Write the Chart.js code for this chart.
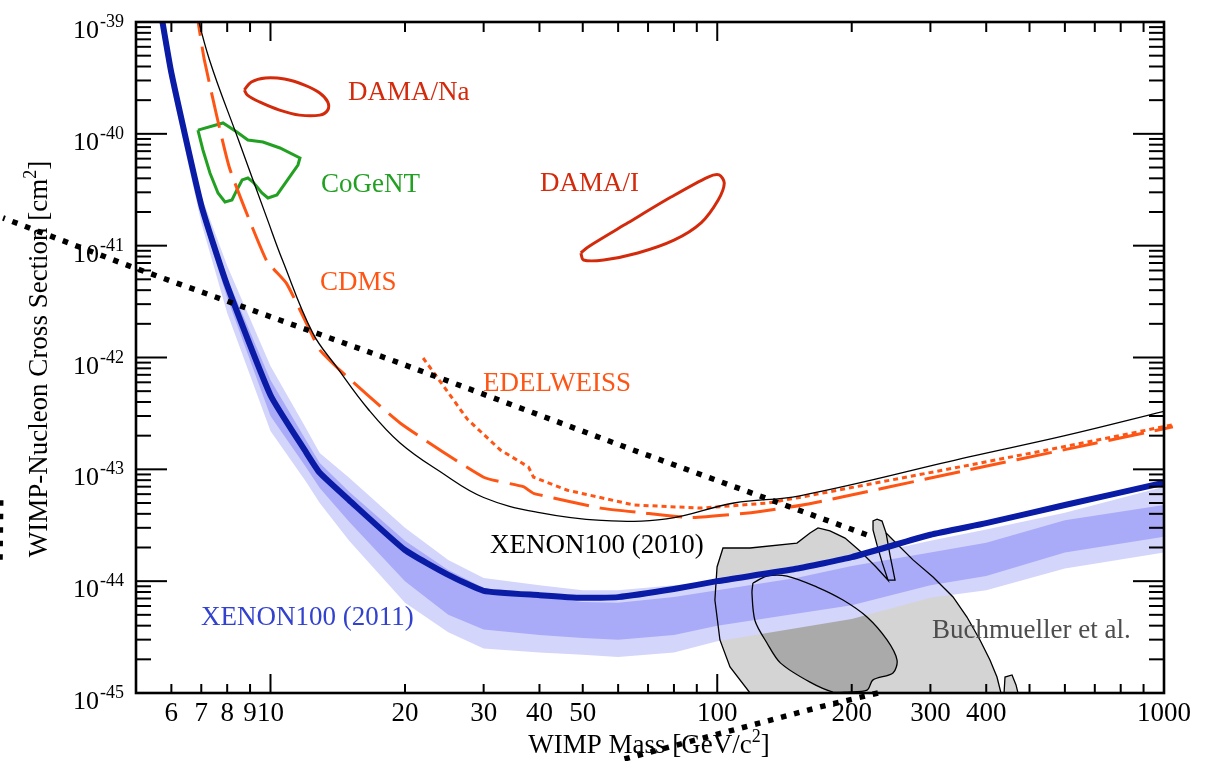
<!DOCTYPE html>
<html>
<head>
<meta charset="utf-8">
<title>XENON100 2011</title>
<script src="https://cdn.jsdelivr.net/npm/chart.js@4/dist/chart.umd.min.js"></script>
<style>
  html, body { margin: 0; padding: 0; background: #fff; }
  canvas { display: block; }
</style>
</head>
<body>
<canvas id="chart" width="1218" height="761"></canvas>
<script>
// WIMP mass grid [GeV/c^2] for the XENON100 (2011) limit and its bands
const massGrid = [5.68, 6, 7, 8, 10, 12, 12.89, 15, 20, 25, 30, 40, 50, 60, 80, 100, 150, 200, 300, 400, 600, 1000];
const xenon2011 = [1.23e-39, 3.5e-40, 2.3e-41, 4.4e-42, 4.6e-43, 1.43e-43, 9.3e-44, 5.3e-44, 1.9e-44, 1.14e-44, 8.2e-45, 7.5e-45, 7.1e-45, 7.2e-45, 8.5e-45, 1.0e-44, 1.29e-44, 1.64e-44, 2.6e-44, 3.3e-44, 4.8e-44, 7.6e-44];
const band2Up = [1.45e-39, 4.1e-40, 2.8e-41, 6.6e-42, 8.4e-43, 2.34e-43, 1.4e-43, 8.4e-44, 3.0e-44, 1.55e-44, 1.07e-44, 9.2e-45, 8.3e-45, 8.3e-45, 9.2e-45, 9.8e-45, 1.26e-44, 1.61e-44, 2.3e-44, 2.9e-44, 4.1e-44, 7.0e-44];
const band1Up = [1.31e-39, 3.7e-40, 2.6e-41, 5.1e-42, 6.3e-43, 1.83e-43, 1.14e-43, 6.3e-44, 2.3e-44, 1.26e-44, 8.7e-45, 7.2e-45, 6.5e-45, 6.4e-45, 7.2e-45, 8.3e-45, 1.07e-44, 1.37e-44, 1.8e-44, 2.2e-44, 3.5e-44, 4.8e-44];
const band1Down = [1.04e-39, 3.0e-40, 1.9e-41, 3.4e-42, 3.0e-43, 1.05e-43, 6.8e-44, 3.4e-44, 1.0e-44, 5.0e-45, 3.7e-45, 3.3e-45, 3.1e-45, 3.0e-45, 3.3e-45, 4.0e-45, 5.1e-45, 6.1e-45, 9.2e-45, 1.11e-44, 1.8e-44, 2.5e-44];
const band2Down = [8.8e-40, 2.6e-40, 1.6e-41, 2.5e-42, 2.2e-43, 7.8e-44, 5.0e-44, 2.3e-44, 6.4e-45, 3.5e-45, 2.5e-45, 2.3e-45, 2.2e-45, 2.1e-45, 2.3e-45, 2.9e-45, 3.8e-45, 4.6e-45, 7.1e-45, 8.3e-45, 1.3e-44, 1.8e-44];

// XENON100 (2010)
const xenon2010Mass = [6.72, 7.30, 8.48, 9.85, 10.64, 12.43, 14.07, 16.5, 19.5, 24, 30, 40, 55, 77, 109, 153, 366, 600, 1000];
const xenon2010Sigma = [1.57e-39, 4.6e-40, 8.8e-41, 1.7e-41, 7.4e-42, 1.66e-42, 8.2e-43, 3.5e-43, 1.72e-43, 9.5e-44, 5.6e-44, 4.1e-44, 3.5e-44, 3.6e-44, 5.0e-44, 5.8e-44, 1.29e-43, 2.0e-43, 3.3e-43];

// CDMS
const cdmsMass = [6.77, 7.11, 8.09, 9.79, 10.86, 12.24, 12.89, 14.3, 19.5, 30, 36.8, 38.8, 54.8, 67.5, 87.4, 119, 160, 366, 600, 1047];
const cdmsSigma = [1.57e-39, 4.6e-40, 5.0e-41, 7.4e-42, 4.6e-42, 1.76e-42, 1.17e-42, 7.7e-43, 2.6e-43, 8.5e-44, 7.0e-44, 6.1e-44, 4.5e-44, 4.1e-44, 3.7e-44, 4.1e-44, 4.9e-44, 9.9e-44, 1.5e-43, 2.4e-43];

// EDELWEISS
const edelweissMass = [21.96, 23.0, 27.6, 32.7, 37.8, 38.8, 46.2, 65.1, 92, 130, 160, 366, 600, 1047];
const edelweissSigma = [9.9e-43, 7.7e-43, 2.8e-43, 1.49e-43, 1.05e-43, 8.5e-44, 6.5e-44, 4.8e-44, 4.5e-44, 5.0e-44, 5.8e-44, 1.09e-43, 1.6e-43, 2.5e-43];

// DAMA/Na, DAMA/I and CoGeNT contours
const damaNaMass = [8.74, 9.06, 9.74, 10.75, 11.92, 12.89, 13.43, 13.43, 12.89, 11.62, 10.48, 9.45, 8.88, 8.74];
const damaNaSigma = [2.47e-40, 2.91e-40, 3.16e-40, 3.09e-40, 2.73e-40, 2.32e-40, 1.93e-40, 1.63e-40, 1.47e-40, 1.47e-40, 1.63e-40, 1.93e-40, 2.22e-40, 2.47e-40];
const damaIMass = [49.5, 51.3, 63.1, 78.8, 95.4, 101, 103.7, 100.5, 92, 80, 66.4, 55.7, 50.2, 49.5];
const damaISigma = [8.6e-42, 9.7e-42, 1.6e-41, 2.72e-41, 4.11e-41, 4.29e-41, 3.63e-41, 2.56e-41, 1.6e-41, 1.12e-41, 8.6e-42, 7.45e-42, 7.45e-42, 8.6e-42];
const cogentMass = [6.88, 7.83, 8.41, 8.90, 9.62, 10.50, 11.64, 11.52, 10.34, 9.87, 9.57, 9.14, 8.90, 8.64, 8.41, 8.20, 7.91, 7.63, 7.32, 7.06, 6.88];
const cogentSigma = [1.08e-40, 1.25e-40, 1.04e-40, 8.8e-41, 8.45e-41, 7.47e-41, 6.08e-41, 5.26e-41, 2.84e-41, 2.67e-41, 2.96e-41, 3.71e-41, 4.03e-41, 3.87e-41, 3.15e-41, 2.56e-41, 2.46e-41, 2.96e-41, 4.47e-41, 7.17e-41, 1.08e-40];

// Buchmueller et al. regions
const buchOuterMass = [118.4, 106.8, 101.4, 98.8, 99.9, 103.0, 118.4, 150.8, 161.3, 168.1, 178.8, 193.2, 208.7, 226.7, 241.2, 233.8, 227.9, 223.2, 223.2, 227.9, 233.8, 238.7, 250.0, 274.3, 304.1, 337.1, 362.2, 387.3, 407.8, 422.8, 431.6, 438.5, 440.7, 456.9, 466.4, 471.2, 118.4];
const buchOuterSigma = [1e-45, 1.71e-45, 2.98e-45, 6.78e-45, 1.34e-44, 1.98e-44, 1.98e-44, 2.19e-44, 2.70e-44, 2.99e-44, 2.81e-44, 2.43e-44, 1.86e-44, 1.34e-44, 1.02e-44, 1.48e-44, 2.10e-44, 2.87e-44, 3.45e-44, 3.59e-44, 3.45e-44, 2.70e-44, 2.24e-44, 1.55e-44, 1.09e-44, 7.22e-45, 4.78e-45, 2.98e-45, 1.97e-45, 1.39e-45, 1e-45, 1e-45, 1.39e-45, 1.45e-45, 1.18e-45, 1e-45, 1e-45];
const buchFingerMass = [238.7, 243.6, 250.0, 241.2];
const buchFingerSigma = [2.70e-44, 1.71e-44, 1.02e-44, 1.02e-44];
const buchInnerMass = [120.2, 129.2, 143.3, 167.2, 191.2, 216.4, 239.9, 252.6, 247.4, 223.2, 216.4, 195.2, 181.6, 161.3, 138.6, 129.2, 121.5, 119.6, 120.2];
const buchInnerSigma = [9.63e-45, 1.11e-44, 1.11e-44, 8.86e-45, 6.78e-45, 4.78e-45, 2.98e-45, 1.97e-45, 1.51e-45, 1.31e-45, 1.06e-45, 1.02e-45, 1.02e-45, 1.25e-45, 1.85e-45, 2.80e-45, 4.43e-45, 7.83e-45, 9.63e-45];

// dotted black lines (listed high mass first so every point is drawn)
const dotMass = [216, 64.8, 19.5, 4.92, 2.52];
const dotSigma = [2.6e-44, 1.49e-43, 8.9e-43, 6.4e-42, 1.77e-41];
const dot2Mass = [229, 169.8, 59.7];
const dot2Sigma = [1e-45, 7.5e-46, 2.47e-46];
const dot3Mass = [2.49, 2.48];
const dot3Sigma = [5.3e-44, 1.39e-44];

// axis ticks
const xTickLabels = [6, 7, 8, 9, 10, 20, 30, 40, 50, 100, 200, 300, 400, 1000];
const xMajorTicks = [10, 100, 1000];
const xMinorTicks = [6, 7, 8, 9, 20, 30, 40, 50, 60, 70, 80, 90, 200, 300, 400, 500, 600, 700, 800, 900];
const yDecades = [-45, -44, -43, -42, -41, -40, -39];

const SERIF = '"Liberation Serif", "Times New Roman", serif';
const ORANGE = '#ff5514';
const RED = '#d42a0c';

const pts = (xs, ys) => xs.map((x, i) => ({ x: x, y: ys[i] }));
const bandShape = (up, down) => pts(massGrid, up).concat(pts(massGrid, down).reverse());

const textLabels = [
    { text: 'DAMA/Na', x: 348, y: 100, color: RED },
    { text: 'CoGeNT', x: 321, y: 192, color: '#22a022' },
    { text: 'DAMA/I', x: 540, y: 191, color: RED },
    { text: 'CDMS', x: 320, y: 290, color: ORANGE },
    { text: 'EDELWEISS', x: 483, y: 391, color: ORANGE },
    { text: 'XENON100 (2010)', x: 490, y: 553, color: '#000' },
    { text: 'XENON100 (2011)', x: 201, y: 625, color: '#3242cf' },
    { text: 'Buchmueller et al.', x: 932, y: 638, color: '#4d4d4d' },
];

// 軸、刻度與文字
const axesPlugin = {
    id: 'axesPlugin',
    beforeDatasetsDraw(chart) {
        const { ctx, scales: { x, y } } = chart;
        ctx.save();
        ctx.fillStyle = '#000';
        ctx.textBaseline = 'alphabetic';
        ctx.font = '27px ' + SERIF;
        ctx.textAlign = 'center';
        xTickLabels.forEach((m) => ctx.fillText(String(m), x.getPixelForValue(m), 721));

        yDecades.forEach((e) => {
            const py = y.getPixelForValue(Math.pow(10, e));
            ctx.font = '26px ' + SERIF;
            ctx.textAlign = 'right';
            ctx.fillText('10', 99, py + 16);
            ctx.font = '18px ' + SERIF;
            ctx.textAlign = 'left';
            ctx.fillText(String(e), 100, py + 5);
        });

        const drawTitle = (main, tail, cx, cy) => {
            ctx.font = '27px ' + SERIF;
            const w1 = ctx.measureText(main).width;
            const w3 = ctx.measureText(tail).width;
            ctx.font = '18px ' + SERIF;
            const w2 = ctx.measureText('2').width;
            const sx = cx - (w1 + w2 + w3) / 2;
            ctx.textAlign = 'left';
            ctx.font = '27px ' + SERIF;
            ctx.fillText(main, sx, cy);
            ctx.font = '18px ' + SERIF;
            ctx.fillText('2', sx + w1, cy - 11);
            ctx.font = '27px ' + SERIF;
            ctx.fillText(tail, sx + w1 + w2, cy);
        };
        drawTitle('WIMP Mass [GeV/c', ']', 649, 753);

        ctx.save();
        ctx.translate(47, 359);
        ctx.rotate(-Math.PI / 2);
        drawTitle('WIMP-Nucleon Cross Section [cm', ']', 0, 0);
        ctx.restore();
        ctx.restore();
    },
    afterDatasetsDraw(chart) {
        const { ctx, chartArea: a, scales: { x, y } } = chart;
        ctx.save();
        ctx.textBaseline = 'alphabetic';
        ctx.textAlign = 'left';
        ctx.font = '27px ' + SERIF;
        textLabels.forEach((l) => {
            ctx.fillStyle = l.color;
            ctx.fillText(l.text, l.x, l.y);
        });

        ctx.strokeStyle = '#000';
        ctx.lineWidth = 2;
        const seg = (x1, y1, x2, y2) => {
            ctx.beginPath();
            ctx.moveTo(x1, y1);
            ctx.lineTo(x2, y2);
            ctx.stroke();
        };
        xMinorTicks.forEach((m) => {
            const px = x.getPixelForValue(m);
            seg(px, a.bottom, px, a.bottom - 9);
            seg(px, a.top, px, a.top + 10);
        });
        xMajorTicks.forEach((m) => {
            const px = x.getPixelForValue(m);
            seg(px, a.bottom, px, a.bottom - 19);
            seg(px, a.top, px, a.top + 19);
        });
        yDecades.forEach((e) => {
            const py = y.getPixelForValue(Math.pow(10, e));
            seg(a.left, py, a.left + 31, py);
            seg(a.right, py, a.right - 31, py);
            if (e === -39) return;
            for (let k = 2; k <= 9; k++) {
                const pm = y.getPixelForValue(k * Math.pow(10, e));
                seg(a.left, pm, a.left + 15, pm);
                seg(a.right, pm, a.right - 15, pm);
            }
        });
        ctx.lineWidth = 2.6;
        ctx.strokeRect(a.left, a.top, a.right - a.left, a.bottom - a.top);
        ctx.restore();
    },
};

const dotted = { borderColor: '#000', borderWidth: 5.5, borderDash: [5.5, 8], clip: false, fill: false };
const outline = { borderColor: '#000', borderWidth: 1.3, fill: false };
const rightOverflow = { left: 0, top: 0, right: 10, bottom: 0 };

document.addEventListener('DOMContentLoaded', () => {
    const ctx = document.getElementById('chart').getContext('2d');
    new Chart(ctx, {
        type: 'line',
        data: {
            // first dataset is drawn on top
            datasets: [
                { ...dotted, data: pts(dotMass, dotSigma) },
                { ...dotted, data: pts(dot2Mass, dot2Sigma) },
                { ...dotted, data: pts(dot3Mass, dot3Sigma) },
                { data: pts(massGrid, xenon2011), borderColor: '#0a1ca5', borderWidth: 6, fill: false, tension: 0.15 },
                { data: pts(xenon2010Mass, xenon2010Sigma), borderColor: '#000', borderWidth: 1.3, fill: false, tension: 0.4 },
                { data: pts(edelweissMass, edelweissSigma), borderColor: ORANGE, borderWidth: 3, borderDash: [5, 4], fill: false, clip: rightOverflow },
                { data: pts(cdmsMass, cdmsSigma), borderColor: ORANGE, borderWidth: 3, borderDash: [36, 11], fill: false, tension: 0.15, clip: rightOverflow },
                { data: pts(damaNaMass, damaNaSigma), borderColor: RED, borderWidth: 3, fill: false, tension: 0.35 },
                { data: pts(damaIMass, damaISigma), borderColor: RED, borderWidth: 3, fill: false, tension: 0.3 },
                { data: pts(cogentMass, cogentSigma), borderColor: '#22a022', borderWidth: 3, fill: false },
                { ...outline, data: pts(buchFingerMass, buchFingerSigma) },
                { ...outline, data: pts(buchInnerMass, buchInnerSigma), tension: 0.3 },
                { ...outline, data: pts(buchOuterMass, buchOuterSigma) },
                { data: bandShape(band1Up, band1Down), borderColor: 'transparent', backgroundColor: '#a9abf8', fill: 'shape' },
                { data: bandShape(band2Up, band2Down), borderColor: 'transparent', backgroundColor: '#d4d5fb', fill: 'shape' },
                { data: pts(buchInnerMass, buchInnerSigma), borderColor: 'transparent', backgroundColor: '#aaaaaa', fill: 'shape', tension: 0.3 },
                { data: pts(buchOuterMass, buchOuterSigma), borderColor: 'transparent', backgroundColor: '#d4d4d4', fill: 'shape' },
            ],
        },
        options: {
            responsive: false,
            animation: false,
            devicePixelRatio: 1,
            layout: { padding: { left: 136, right: 54, top: 22, bottom: 68 } },
            elements: { point: { radius: 0, hoverRadius: 0 }, line: { tension: 0 } },
            scales: {
                x: { type: 'logarithmic', min: 5, max: 1000, display: false },
                y: { type: 'logarithmic', min: 1e-45, max: 1e-39, display: false },
            },
            plugins: { legend: { display: false }, tooltip: { enabled: false } },
            events: [],
        },
        plugins: [axesPlugin],
    });
});
</script>
</body>
</html>
